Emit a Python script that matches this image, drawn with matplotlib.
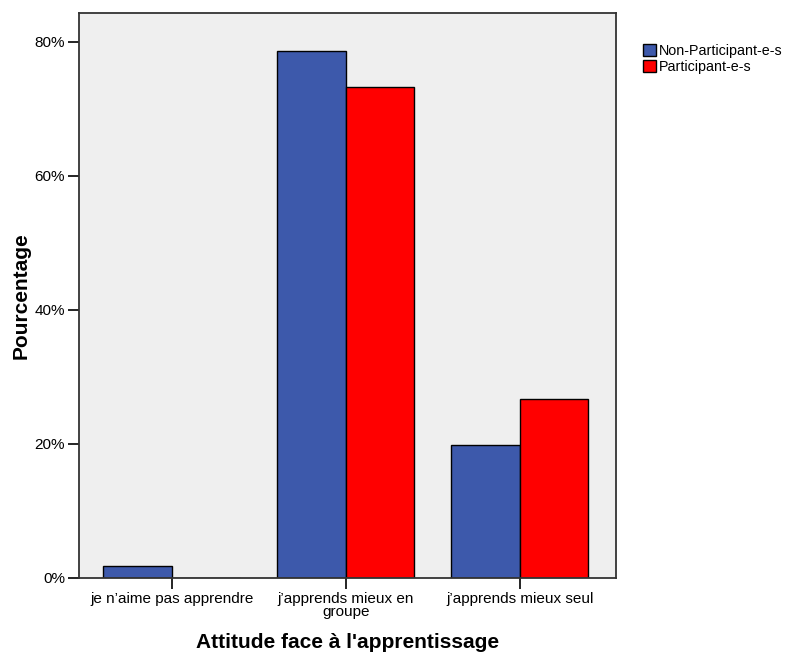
import matplotlib
matplotlib.use("Agg")
import matplotlib.pyplot as plt
import numpy as np

plt.rcParams['font.family'] = ['Liberation Sans', 'DejaVu Sans']

categories = ["je n\u2019aime pas apprendre", "j\u2019apprends mieux en\ngroupe", "j\u2019apprends mieux seul"]
non_participants = [1.8, 78.6, 19.8]
participants = [0.0, 73.3, 26.7]
series_names = ["Non-Participant-e-s", "Participant-e-s"]
yticks = [0, 20, 40, 60, 80]

fig = plt.figure(figsize=(7.87, 6.52), dpi=100)
ax = fig.add_axes([0.1004, 0.1135, 0.6823, 0.8665])
ax.set_facecolor("#efefef")

x = np.arange(len(categories))
w = 0.394
ax.bar(x - w / 2, non_participants, w, color="#3d59ab", edgecolor="black", linewidth=1, label=series_names[0])
ax.bar(x + w / 2, participants, w, color="#ff0000", edgecolor="black", linewidth=1, label=series_names[1])

ax.set_xlim(-0.534, 2.552)
ax.set_ylim(0, 84.3)
ax.set_yticks(yticks)
ax.set_yticklabels([f"{v}%" for v in yticks], fontsize=11)
ax.set_xticks(x)
ax.set_xticklabels(categories, fontsize=11, linespacing=0.95)
ax.tick_params(axis="both", direction="out", length=8, width=1.2, colors="black", pad=2)
for s in ax.spines.values():
    s.set_linewidth(1.3)
    s.set_color("#333333")

ax.set_ylabel("Pourcentage", fontsize=15, fontweight="bold", labelpad=3)
ax.set_xlabel("Attitude face \u00e0 l'apprentissage", fontsize=15, fontweight="bold", labelpad=10)

ax.legend(loc="upper left", bbox_to_anchor=(1.04, 0.955), frameon=False, fontsize=10.3,
          handlelength=0.9, handleheight=0.9, handletextpad=0.2, labelspacing=0.1, borderaxespad=0)

fig.savefig("out.png", dpi=100)
